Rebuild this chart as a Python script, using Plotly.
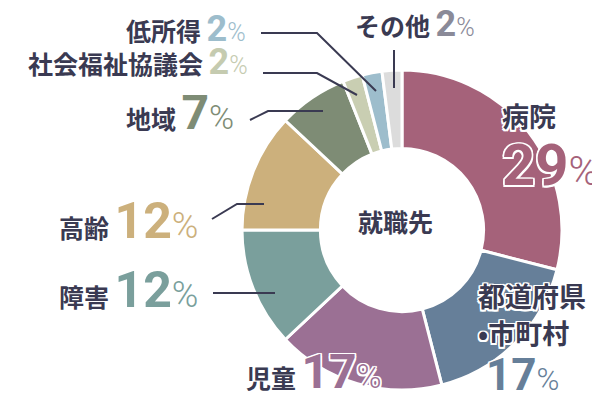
import plotly.graph_objects as go

categories = ["病院", "都道府県・市町村", "児童", "障害", "高齢", "地域", "社会福祉協議会", "低所得", "その他"]
values = [29, 17, 17, 12, 12, 7, 2, 2, 2]
slice_colors = ["#a5627a", "#667f99", "#9b7094", "#7a9f9c", "#ccb07c", "#7e8c75", "#c9ceb2", "#9dbdcc", "#dcdcdc"]
pct_colors = ["#a5627a", "#667f99", "#9b7094", "#7a9f9c", "#ccb07c", "#7e8c75", "#c5cbb0", "#9dbdcc", "#8a8a98"]
center_label = "就職先"

W, H = 600, 400
DARK = "#3a3a52"
JP = "Noto Sans CJK JP"
NUM = "Roboto"
SHADOW = "-1.5px -1.5px 0 #fff, 1.5px -1.5px 0 #fff, -1.5px 1.5px 0 #fff, 1.5px 1.5px 0 #fff, 0 1.5px 0 #fff, 0 -1.5px 0 #fff, 1.5px 0 0 #fff, -1.5px 0 0 #fff"
DY = -10  # vertical correction

fig = go.Figure(go.Pie(
    labels=categories, values=values, sort=False, direction="clockwise", rotation=0,
    hole=0.51, textinfo="none", hoverinfo="label+percent",
    marker=dict(colors=slice_colors, line=dict(color="white", width=3)),
    domain=dict(x=[233 / W, 555 / W], y=[1 - 382 / H, 1 - 62 / H]),
    showlegend=False,
))


def px(x):
    return x / W


def py(y):
    return 1 - (y + DY) / H


def pct_text(v, size, color):
    return (f'<span style="font-family:{NUM};font-size:{size}px;font-weight:bold;color:{color}">{v}</span>'
            f'<span style="font-family:{NUM};font-size:{int(size*0.72)}px;font-weight:300;color:{color}">%</span>')


def jp(t, size=25):
    return f'<span style="font-family:{JP};font-size:{size}px">{t}</span>'


def label(text, x, y, xanchor):
    fig.add_annotation(text=text, x=px(x), y=py(y), xref="paper", yref="paper",
                       xanchor=xanchor, yanchor="middle", showarrow=False,
                       font=dict(family=JP, size=24, color=DARK, weight="bold", shadow=SHADOW))


idx = {c: i for i, c in enumerate(categories)}

# left-side labels
label(jp("低所得") + " " + pct_text(values[idx["低所得"]], 36, pct_colors[idx["低所得"]]), 240, 31, "right")
label(jp("社会福祉協議会") + " " + pct_text(values[idx["社会福祉協議会"]], 36, pct_colors[idx["社会福祉協議会"]]), 242, 64, "right")
label(jp("地域") + " " + pct_text(values[idx["地域"]], 48, pct_colors[idx["地域"]]), 228, 114, "right")
label(jp("高齢") + " " + pct_text(values[idx["高齢"]], 50, pct_colors[idx["高齢"]]), 192, 223, "right")
label(jp("障害") + " " + pct_text(values[idx["障害"]], 50, pct_colors[idx["障害"]]), 192, 292, "right")
label(jp("児童") + " " + pct_text(values[idx["児童"]], 48, pct_colors[idx["児童"]]), 236, 373, "left")
label(jp("その他") + " " + pct_text(values[idx["その他"]], 36, pct_colors[idx["その他"]]), 345, 26, "left")

# right-side labels
label(jp("病院", 27), 492, 117, "left")
label(pct_text(values[idx["病院"]], 58, pct_colors[idx["病院"]]), 492, 167, "left")
label(jp("都道府県", 27), 468, 297, "left")
label(jp("•市町村", 27), 468, 334, "left")
label(pct_text(values[idx["都道府県・市町村"]], 44, pct_colors[idx["都道府県・市町村"]]), 476, 377, "left")

# center
label(jp(center_label, 25), 387, 223, "center")

# leader lines
leaders = [
    [(253, 25), (309, 25), (368, 83)],
    [(255, 65), (309, 65), (349, 87)],
    [(242, 112), (260, 103), (315, 103)],
    [(386, 42), (386, 80)],
    [(204, 211), (229, 196), (256, 196)],
    [(205, 285), (267, 285)],
]
for pts in leaders:
    path = "M " + " L ".join(f"{x / W} {1 - y / H}" for x, y in pts)
    fig.add_shape(type="path", path=path, xref="paper", yref="paper",
                  line=dict(color=DARK, width=2))

fig.update_layout(width=W, height=H, margin=dict(l=0, r=0, t=0, b=0),
                  paper_bgcolor="white", plot_bgcolor="white")
fig.write_html("out.html")
